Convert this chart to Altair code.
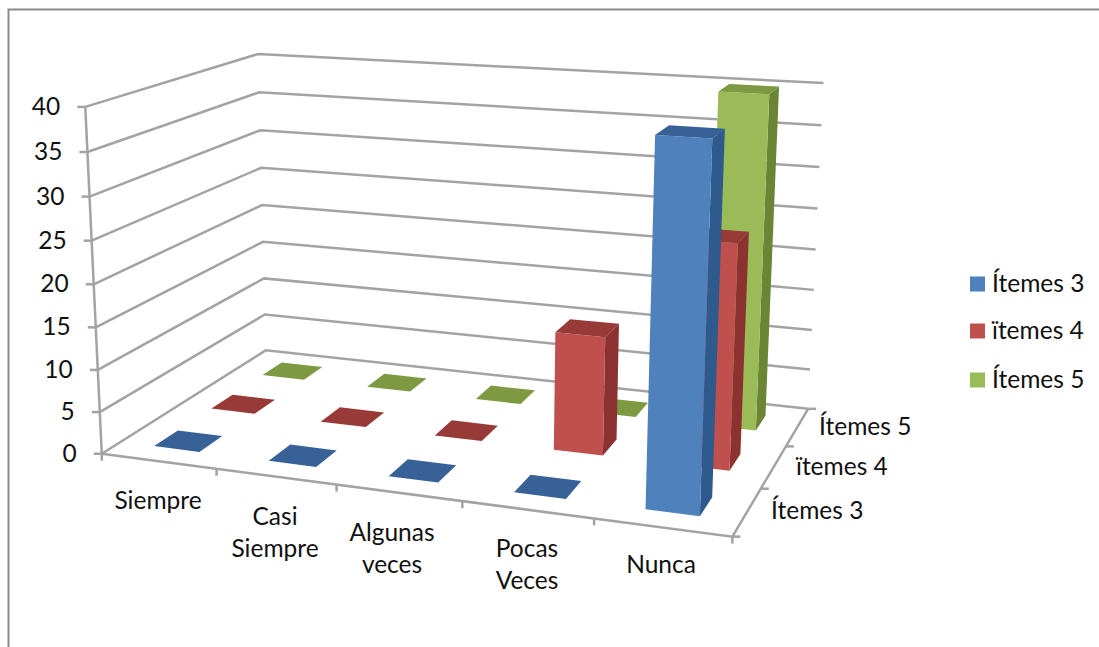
import numpy as np
import pandas as pd
import altair as alt

W, H = 1099, 647

categories = ["Siempre", "Casi\nSiempre", "Algunas\nveces", "Pocas\nVeces", "Nunca"]
series = ["Ítemes 3", "ïtemes 4", "Ítemes 5"]
items3 = [0, 0, 0, 0, 40]
items4 = [0, 0, 0, 14, 26]
items5 = [0, 0, 0, 0, 40]
value_ticks = [0, 5, 10, 15, 20, 25, 30, 35, 40]

front_colors = ["#4F81BD", "#C0504D", "#9BBB59"]
top_colors = ["#386198", "#983A37", "#7D9A42"]
side_colors = ["#2F5A8E", "#8C3230", "#6A8634"]
grid_color = "#A3A3A3"
text_color = "#111111"
font = "Lato"

# Camera of the 3D plot box: (category, series depth, value) -> screen position
calibration = [
    ((0, 0, 0), (102.7, 453)), ((1, 0, 0), (216.7, 470)), ((2, 0, 0), (336.7, 490)),
    ((3, 0, 0), (461.7, 503)), ((4, 0, 0), (593, 520)), ((5, 0, 0), (730, 535)),
    ((5, 1, 0), (768, 487)), ((5, 2, 0), (786.7, 445)), ((5, 3, 0), (806, 408)),
    ((0, 3, 0), (265, 350.7)), ((0, 0, 5), (100, 410.7)), ((0, 0, 10), (97, 369)),
    ((0, 0, 15), (95.7, 326)), ((0, 0, 30), (90, 196)), ((0, 0, 35), (88, 151.7)),
    ((0, 0, 40), (85, 107)), ((0, 3, 40), (258, 54)), ((0, 3, 35), (259, 92)),
    ((0, 3, 30), (260, 130)), ((5, 3, 40), (825, 84)), ((5, 3, 35), (821.7, 126)),
    ((5, 3, 30), (819, 168)),
    ((4.3, 0.3, 0), (644, 509)), ((4.7, 0.3, 0), (699, 515)),
    ((4.3, 0.3, 40), (654, 135)), ((4.7, 0.3, 40), (712, 138)),
    ((0.3, 0.3, 0), (156, 446)), ((0.7, 0.3, 0), (198, 452)),
    ((0.7, 0.7, 0), (222, 436)), ((0.3, 0.7, 0), (179, 431)),
    ((3.3, 1.3, 0), (553, 450)), ((3.7, 1.3, 0), (603, 455)),
]


def fit_camera(pairs):
    rows, rhs = [], []
    for (a, b, c), (sx, sy) in pairs:
        rows.append([a, b, c, 1, 0, 0, 0, 0, -sx * a, -sx * b, -sx * c])
        rows.append([0, 0, 0, 0, a, b, c, 1, -sy * a, -sy * b, -sy * c])
        rhs += [sx, sy]
    p = np.linalg.lstsq(np.array(rows, float), np.array(rhs, float), rcond=None)[0]
    return np.append(p, 1.0).reshape(3, 4)


CAM = fit_camera(calibration)


def project(a, b, c):
    sx, sy, sw = CAM @ np.array([a, b, c, 1.0])
    return float(sx / sw), float(sy / sw)


# Bars occupy 40% of each category and series slot (Excel gap width 150)
BAR_LO, BAR_HI = 0.3, 0.7

faces = []
face_id = 0


def add_face(corners, colour):
    global face_id
    for i, corner in enumerate(corners):
        sx, sy = project(*corner)
        faces.append(dict(face=f"{face_id:03d}", vertex=i, x=sx, y=sy, fill=colour))
    face_id += 1


table = [items3, items4, items5]
for s in (2, 1, 0):
    for c in range(len(categories)):
        v = table[s][c]
        a0, a1 = c + BAR_LO, c + BAR_HI
        b0, b1 = s + BAR_LO, s + BAR_HI
        if v > 0:
            add_face([(a1, b0, 0), (a1, b1, 0), (a1, b1, v), (a1, b0, v)], side_colors[s])
            add_face([(a0, b0, 0), (a1, b0, 0), (a1, b0, v), (a0, b0, v)], front_colors[s])
        add_face([(a0, b0, v), (a1, b0, v), (a1, b1, v), (a0, b1, v)], top_colors[s])
faces_df = pd.DataFrame(faces)

# Grid, box edges and tick marks
lines = []
line_id = 0


def add_line(points):
    global line_id
    for i, (sx, sy) in enumerate(points):
        lines.append(dict(line=f"{line_id:03d}", vertex=i, x=sx, y=sy))
    line_id += 1


for v in value_ticks:
    add_line([project(0, 0, v), project(0, 3, v), project(5, 3, v)])
    sx, sy = project(0, 0, v)
    add_line([(sx - 8, sy), (sx, sy)])
add_line([project(0, 0, 0), project(0, 0, 40)])
add_line([project(0, 0, 0), project(5, 0, 0), project(5, 3, 0)])
for c in range(len(categories) + 1):
    sx, sy = project(c, 0, 0)
    add_line([(sx, sy), (sx, sy + 7)])
for s in range(len(series) + 1):
    sx, sy = project(5, s, 0)
    add_line([(sx, sy), (sx + 8, sy)])
lines_df = pd.DataFrame(lines)

# Text labels
labels = []
for v in value_ticks:
    sx, sy = project(0, 0, v)
    labels.append(dict(x=sx - 25, y=sy + 1, text=str(v), align="right"))
cat_label_pos = [(158, 502), (275, 533.5), (392, 550), (527, 566), (661, 565.5)]
for name, (cx, cy) in zip(categories, cat_label_pos):
    parts = name.split("\n")
    for i, part in enumerate(parts):
        labels.append(dict(x=cx, y=cy + (i - (len(parts) - 1) / 2) * 32, text=part, align="center"))
for name, (lx, ly) in zip(series, [(771, 512), (796, 468), (819, 428)]):
    labels.append(dict(x=lx, y=ly, text=name, align="left"))
legend_rows = [284, 331, 380]
for name, ly in zip(series, legend_rows):
    labels.append(dict(x=992, y=ly + 1, text=name, align="left"))
labels_df = pd.DataFrame(labels)

legend_df = pd.DataFrame(dict(x=[977.5] * 3, y=legend_rows, fill=front_colors))

x_enc = alt.X("x:Q", scale=alt.Scale(domain=[0, W], range=[0, W]), axis=None)
y_enc = alt.Y("y:Q", scale=alt.Scale(domain=[0, H], range=[0, H]), axis=None)

frame = alt.Chart(pd.DataFrame(dict(x=[8.5, 8.5, W], y=[H, 9.5, 9.5], vertex=[0, 1, 2]))).mark_line(
    color="#8C8C8C", strokeWidth=2
).encode(x=x_enc, y=y_enc, order="vertex:Q")

grid = alt.Chart(lines_df).mark_line(color=grid_color, strokeWidth=2.5).encode(
    x=x_enc, y=y_enc, detail="line:N", order="vertex:Q"
)

bars = alt.Chart(faces_df).mark_line(filled=True, strokeWidth=0).encode(
    x=x_enc, y=y_enc,
    fill=alt.Fill("fill:N", scale=None),
    detail="face:N",
    order="vertex:Q",
)

swatches = alt.Chart(legend_df).mark_square(size=225, opacity=1).encode(
    x=x_enc, y=y_enc, fill=alt.Fill("fill:N", scale=None), strokeWidth=alt.value(0)
)


def text_layer(align):
    return alt.Chart(labels_df[labels_df["align"] == align]).mark_text(
        align=align, baseline="middle", font=font, fontSize=24.5, color=text_color
    ).encode(x=x_enc, y=y_enc, text="text:N")


chart = alt.layer(
    frame, grid, bars, swatches, text_layer("left"), text_layer("right"), text_layer("center")
).properties(width=W, height=H, padding=0, autosize=alt.AutoSizeParams(type="none"), background="white").configure_view(stroke=None)

chart.save("out.html", embed_options={"renderer": "svg", "actions": False})
